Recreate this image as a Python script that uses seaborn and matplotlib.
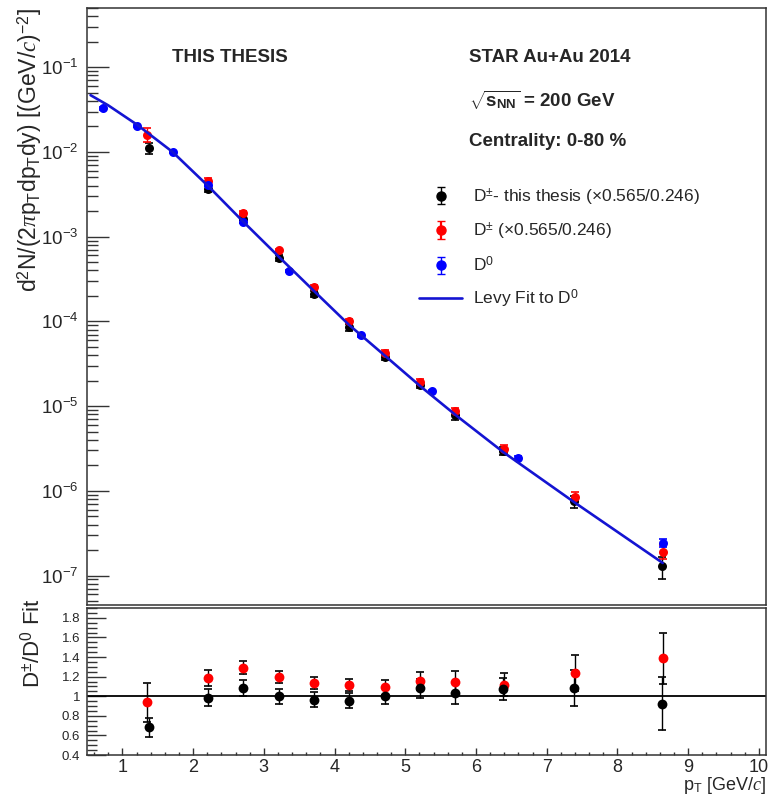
import numpy as np
import pandas as pd
import matplotlib
matplotlib.use("Agg")
import matplotlib.pyplot as plt
import seaborn as sns
from matplotlib.ticker import LogLocator, MultipleLocator, NullFormatter, FixedLocator

# ---------------- data ----------------
d0_pt = [0.72, 1.21, 1.71, 2.21, 2.70, 3.35, 4.37, 5.38, 6.59, 8.64]
d0_y = [3.3e-2, 2.04e-2, 9.9e-3, 4.12e-3, 1.51e-3, 3.91e-4, 6.9e-5, 1.49e-5, 2.44e-6, 2.44e-7]
d0_err = [1.3e-3, 6.0e-4, 3.0e-4, 1.2e-4, 4.5e-5, 1.2e-5, 2.8e-6, 7.5e-7, 1.5e-7, 2.4e-8]

dpm_thesis_pt = [1.37, 2.21, 2.71, 3.21, 3.71, 4.21, 4.71, 5.21, 5.71, 6.38, 7.39, 8.63]
dpm_thesis_y = [1.115e-2, 3.67e-3, 1.60e-3, 5.62e-4, 2.13e-4, 8.5e-5, 3.77e-5, 1.78e-5,
                7.77e-6, 2.98e-6, 7.5e-7, 1.30e-7]
dpm_thesis_err = [1.7e-3, 3.3e-4, 1.3e-4, 4.5e-5, 1.7e-5, 7.2e-6, 3.1e-6, 1.6e-6,
                  8.5e-7, 3.1e-7, 1.3e-7, 3.8e-8]

dpm_pt = [1.35, 2.21, 2.71, 3.21, 3.71, 4.21, 4.71, 5.21, 5.71, 6.39, 7.40, 8.65]
dpm_y = [1.60e-2, 4.59e-3, 1.90e-3, 6.9e-4, 2.56e-4, 1.02e-4, 4.28e-5, 1.91e-5,
         8.67e-6, 3.12e-6, 8.5e-7, 1.91e-7]
dpm_err = [3.0e-3, 3.1e-4, 9.5e-5, 3.5e-5, 1.4e-5, 5.7e-6, 3.0e-6, 1.6e-6,
           8.3e-7, 3.2e-7, 1.2e-7, 3.6e-8]

fit_pt = [0.55, 0.80, 1.21, 1.71, 2.21, 2.70, 3.21, 3.72, 4.21, 4.72, 5.22, 5.72, 6.39, 7.40, 8.64]
fit_y = [4.68e-2, 3.55e-2, 2.09e-2, 1.00e-2, 3.98e-3, 1.53e-3, 5.82e-4, 2.24e-4, 9.02e-5,
         3.89e-5, 1.70e-5, 7.76e-6, 2.85e-6, 7.24e-7, 1.41e-7]

ratio_thesis = [0.682, 0.983, 1.085, 1.000, 0.963, 0.956, 1.000, 1.081, 1.034, 1.071, 1.085, 0.922]
ratio_thesis_err = [0.10, 0.088, 0.085, 0.078, 0.076, 0.081, 0.083, 0.098, 0.115, 0.112, 0.186, 0.27]
ratio_dpm = [0.939, 1.189, 1.291, 1.196, 1.135, 1.115, 1.091, 1.156, 1.145, 1.118, 1.237, 1.385]
ratio_dpm_err = [0.20, 0.08, 0.065, 0.06, 0.06, 0.063, 0.075, 0.095, 0.115, 0.115, 0.18, 0.26]

x_ticks = [1, 2, 3, 4, 5, 6, 7, 8, 9, 10]
ratio_ticks = [0.4, 0.6, 0.8, 1.0, 1.2, 1.4, 1.6, 1.8]
ratio_tick_labels = ["0.4", "0.6", "0.8", "1", "1.2", "1.4", "1.6", "1.8"]

# ---------------- style ----------------
sns.set_theme(style="ticks")
plt.rcParams['font.family'] = ['Liberation Sans', 'DejaVu Sans']
plt.rcParams['mathtext.fontset'] = 'custom'
plt.rcParams['mathtext.rm'] = 'Liberation Sans'
plt.rcParams['mathtext.it'] = 'Liberation Serif:italic'
plt.rcParams['mathtext.bf'] = 'Liberation Sans:bold'
plt.rcParams['axes.linewidth'] = 1.1
plt.rcParams['axes.edgecolor'] = '#333333'

W, H = 769, 802
fig = plt.figure(figsize=(W / 100, H / 100), dpi=100)
fig.patch.set_facecolor('white')

L, R = 87, 766
ax1 = fig.add_axes([L / W, 1 - 605 / H, (R - L) / W, (605 - 8) / H])
ax2 = fig.add_axes([L / W, 1 - 755 / H, (R - L) / W, (755 - 608) / H])

BLUE = '#0000ff'
RED = '#ff0000'
FITC = '#1414d2'
MS = 42

# ---------------- top panel ----------------
ax1.set_yscale('log')
ax1.errorbar(dpm_thesis_pt, dpm_thesis_y, yerr=dpm_thesis_err, fmt='none', ecolor='black',
             elinewidth=1.0, capsize=3, capthick=1.2, zorder=2)
ax1.errorbar(dpm_pt, dpm_y, yerr=dpm_err, fmt='none', ecolor=RED,
             elinewidth=1.0, capsize=3, capthick=1.2, zorder=2)
ax1.errorbar(d0_pt, d0_y, yerr=d0_err, fmt='none', ecolor=BLUE,
             elinewidth=1.0, capsize=3, capthick=1.2, zorder=2)
sns.scatterplot(x=dpm_thesis_pt, y=dpm_thesis_y, color='black', s=MS, linewidth=0, ax=ax1,
                legend=False, zorder=3)
sns.scatterplot(x=dpm_pt, y=dpm_y, color=RED, s=MS, linewidth=0, ax=ax1, legend=False, zorder=4)
sns.scatterplot(x=d0_pt, y=d0_y, color=BLUE, s=MS, linewidth=0, ax=ax1, legend=False, zorder=5)
fit_df = pd.DataFrame({'pt': fit_pt, 'y': fit_y})
sns.lineplot(data=fit_df, x='pt', y='y', color=FITC, linewidth=1.9, ax=ax1, zorder=6,
             sort=False, estimator=None)

ax1.set_xlim(0.5, 10.1)
ax1.set_ylim(4.5e-8, 0.5)
ax1.set_xlabel('')
ax1.set_ylabel('')
ax1.yaxis.set_major_locator(LogLocator(base=10, numticks=20))
ax1.yaxis.set_minor_locator(LogLocator(base=10, subs=np.arange(2, 10), numticks=20))
ax1.yaxis.set_minor_formatter(NullFormatter())
ax1.tick_params(axis='y', which='major', direction='in', length=16, width=1.0,
                labelsize=13.5, pad=6, right=False, color='#333333')
ax1.tick_params(axis='y', which='minor', direction='in', length=8, width=1.0, right=False,
                color='#333333')
ax1.tick_params(axis='x', which='both', bottom=False, top=False, labelbottom=False)

# legend proxies
h_t = ax1.errorbar([np.nan], [np.nan], yerr=[np.nan], fmt='o', color='black', ms=6.5,
                   capsize=3, elinewidth=1.0)
h_r = ax1.errorbar([np.nan], [np.nan], yerr=[np.nan], fmt='o', color=RED, ms=6.5,
                   capsize=3, elinewidth=1.6)
h_b = ax1.errorbar([np.nan], [np.nan], yerr=[np.nan], fmt='o', color=BLUE, ms=6.5,
                   capsize=3, elinewidth=1.0)
h_f, = ax1.plot([np.nan], [np.nan], color=FITC, lw=1.9)
leg = ax1.legend([h_t, h_r, h_b, h_f],
                 [r'D$^{\pm}$- this thesis ($\times$0.565/0.246)',
                  r'D$^{\pm}$ ($\times$0.565/0.246)',
                  r'D$^{0}$',
                  r'Levy Fit to D$^{0}$'],
                 loc='upper left', bbox_to_anchor=((419 - L) / (R - L), 1 - (186 - 8) / (605 - 8)),
                 frameon=False, fontsize=12.5, handlelength=2.5, handletextpad=0.6,
                 labelspacing=0.75, borderaxespad=0, borderpad=0)

fig.text(230 / W, 1 - 58 / H, 'THIS THESIS', ha='center', va='center',
         fontsize=13.5, fontweight='bold')
fig.text(469 / W, 1 - 58 / H, 'STAR Au+Au 2014', ha='left', va='center',
         fontsize=13.5, fontweight='bold')
fig.text(469 / W, 1 - 100 / H, r'$\sqrt{\mathbf{s}_{\mathbf{NN}}}$ = 200 GeV', ha='left',
         va='center', fontsize=13.5, fontweight='bold')
fig.text(469 / W, 1 - 142 / H, 'Centrality: 0-80 %', ha='left', va='center',
         fontsize=13.5, fontweight='bold')

fig.text(30 / W, 1 - 8 / H,
         r'd$^{2}$N/(2$\pi$p$_{\mathrm{T}}$dp$_{\mathrm{T}}$dy) [(GeV/$c$)$^{-2}$]',
         rotation=90, ha='center', va='top', fontsize=16.5)

# ---------------- ratio panel ----------------
ax2.axhline(1.0, color='black', lw=1.3, zorder=1)
ax2.errorbar(dpm_pt, ratio_dpm, yerr=ratio_dpm_err, fmt='none', ecolor='black',
             elinewidth=1.0, capsize=3, capthick=1.2, zorder=2)
ax2.errorbar(dpm_thesis_pt, ratio_thesis, yerr=ratio_thesis_err, fmt='none', ecolor='black',
             elinewidth=1.0, capsize=3, capthick=1.2, zorder=2)
sns.scatterplot(x=dpm_pt, y=ratio_dpm, color=RED, s=MS + 8, linewidth=0, ax=ax2,
                legend=False, zorder=3)
sns.scatterplot(x=dpm_thesis_pt, y=ratio_thesis, color='black', s=MS + 8, linewidth=0, ax=ax2,
                legend=False, zorder=4)
ax2.set_xlim(0.5, 10.1)
ax2.set_ylim(0.4, 1.9)
ax2.set_xlabel('')
ax2.set_ylabel('')
ax2.xaxis.set_major_locator(FixedLocator(x_ticks))
ax2.set_xticklabels([str(v) for v in x_ticks])
ax2.xaxis.set_minor_locator(MultipleLocator(0.2))
ax2.yaxis.set_major_locator(FixedLocator(ratio_ticks))
ax2.set_yticklabels(ratio_tick_labels)
ax2.yaxis.set_minor_locator(MultipleLocator(0.05))
ax2.tick_params(axis='x', which='major', direction='in', length=5, width=1.0,
                labelsize=13, pad=3, top=False, color='#333333')
ax2.tick_params(axis='x', which='minor', direction='in', length=2.5, width=1.0, top=False,
                color='#333333')
ax2.tick_params(axis='y', which='major', direction='in', length=14, width=1.0,
                labelsize=9.5, pad=5, right=False, color='#333333')
ax2.tick_params(axis='y', which='minor', direction='in', length=7, width=1.0, right=False,
                color='#333333')

fig.text(32 / W, 1 - 643 / H, r'D$^{\pm}$/D$^{0}$ Fit', rotation=90, ha='center',
         va='center', fontsize=16)
fig.text(766 / W, 1 - 786 / H, r'p$_{\mathrm{T}}$ [GeV/$c$]', ha='right', va='center',
         fontsize=13)

fig.savefig('out.png', dpi=100, facecolor='white')
